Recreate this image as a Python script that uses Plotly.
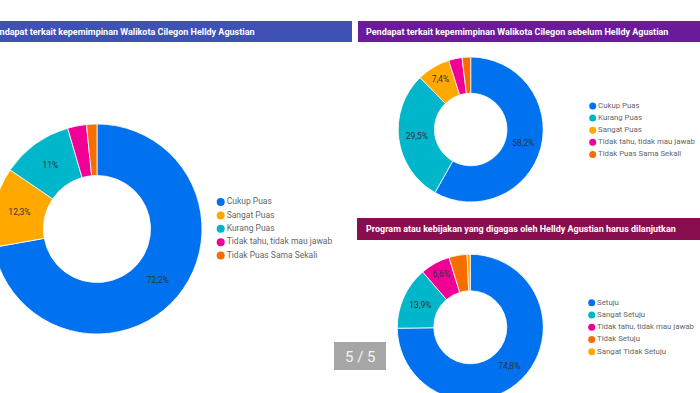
import plotly.graph_objects as go

# ---------------- data ----------------
pie1_labels = ["Cukup Puas", "Sangat Puas", "Kurang Puas",
               "Tidak tahu, tidak mau jawab", "Tidak Puas Sama Sekali"]
pie1_values = [72.2, 12.3, 11.0, 2.9, 1.6]

pie2_labels = ["Cukup Puas", "Kurang Puas", "Sangat Puas",
               "Tidak tahu, tidak mau jawab", "Tidak Puas Sama Sekali"]
pie2_values = [58.2, 29.5, 7.4, 3.0, 1.9]

pie3_labels = ["Setuju", "Sangat Setuju", "Tidak tahu, tidak mau jawab",
               "Tidak Setuju", "Sangat Tidak Setuju"]
pie3_values = [74.8, 13.9, 6.6, 4.0, 0.7]

titles = [
    "Pendapat terkait kepemimpinan Walikota Cilegon Helldy Agustian",
    "Pendapat terkait kepemimpinan Walikota Cilegon sebelum Helldy Agustian",
    "Program atau kebijakan yang digagas oleh Helldy Agustian harus dilanjutkan",
]
page_indicator = "5 / 5"

BLUE, TEAL, PINK, ORANGE, YELLOW = "#0072f0", "#00b6cb", "#f10096", "#f66d00", "#ffa800"
color_map = {
    "Cukup Puas": BLUE, "Sangat Puas": YELLOW, "Kurang Puas": TEAL,
    "Tidak tahu, tidak mau jawab": PINK, "Tidak Puas Sama Sekali": ORANGE,
    "Setuju": BLUE, "Sangat Setuju": TEAL, "Tidak Setuju": ORANGE,
    "Sangat Tidak Setuju": YELLOW,
}

# ---------------- geometry helpers (screenshot pixels -> paper) ----------------
W, H, OX = 708, 402, 8
FONT = "Roboto"


def px(x):
    return min(1.0, max(0.0, (x + OX) / W))


def py(y):
    return min(1.0, max(0.0, 1 - y / H))


def dom(cx, cy, r):
    return dict(x=[px(cx - r), px(cx + r)], y=[py(cy + r), py(cy - r)])


def fmt(v):
    if v < 5:
        return ""
    s = f"{v:.1f}".rstrip("0").rstrip(".")
    return s.replace(".", ",") + "%"


fig = go.Figure()

pies = [
    (pie1_labels, pie1_values, (97, 229, 105), 0.51),
    (pie2_labels, pie2_values, (470.7, 129.5, 72.5), 0.5),
    (pie3_labels, pie3_values, (470.3, 327.3, 73), 0.5),
]
for labels, values, (cx, cy, r), hole in pies:
    fig.add_trace(go.Pie(
        labels=labels, values=values, sort=False, direction="clockwise", rotation=0,
        hole=hole, domain=dom(cx, cy, r),
        marker=dict(colors=[color_map[l] for l in labels], line=dict(color="white", width=0.8)),
        text=[fmt(v) for v in values], texttemplate="%{text}", textposition="inside",
        insidetextorientation="horizontal",
        textfont=dict(family=FONT, size=8.5, color="#333333"),
        showlegend=False, hoverinfo="skip",
    ))

# ---------------- legends as category scatter ----------------
legends = [
    (pie1_labels, 220.7, 202.0, 13.4, 8, 8.5),
    (pie2_labels, 592.7, 106.0, 12.1, 7, 7.8),
    (pie3_labels, 591.7, 302.7, 12.25, 7, 7.8),
]
layout_axes = {}
for i, (labels, mx, y0, s, ms, fs) in enumerate(legends, start=1):
    xa = "x" if i == 1 else f"x{i}"
    ya = "y" if i == 1 else f"y{i}"
    fig.add_trace(go.Scatter(
        x=[0] * len(labels), y=labels, xaxis=xa, yaxis=ya,
        mode="markers+text", text=labels, textposition="middle right",
        textfont=dict(family=FONT, size=fs, color="#666666"),
        marker=dict(size=ms, color=[color_map[l] for l in labels], line=dict(width=0)),
        cliponaxis=False, showlegend=False, hoverinfo="skip",
    ))
    kx = "xaxis" if i == 1 else f"xaxis{i}"
    ky = "yaxis" if i == 1 else f"yaxis{i}"
    layout_axes[kx] = dict(domain=[px(mx - 10), px(mx + 10)], range=[-1, 1], visible=False,
                           fixedrange=True, anchor=ya)
    layout_axes[ky] = dict(domain=[py(y0 + 4.5 * s), py(y0 - 0.5 * s)], type="category",
                           categoryorder="array", categoryarray=labels,
                           range=[len(labels) - 0.5, -0.5], visible=False, fixedrange=True,
                           anchor=xa)

# ---------------- header bars, titles, page indicator ----------------
shapes = [
    dict(type="rect", xref="paper", yref="paper", x0=0, x1=px(352), y0=py(42), y1=py(21),
         fillcolor="#3f51b5", line=dict(width=0), layer="below"),
    dict(type="rect", xref="paper", yref="paper", x0=px(358), x1=1, y0=py(42), y1=py(21),
         fillcolor="#6a1b9a", line=dict(width=0), layer="below"),
    dict(type="rect", xref="paper", yref="paper", x0=px(357), x1=1, y0=py(240), y1=py(218),
         fillcolor="#880e4f", line=dict(width=0), layer="below"),
    dict(type="rect", xref="paper", yref="paper", x0=px(334), x1=px(386), y0=py(370), y1=py(342),
         fillcolor="rgba(150,150,150,0.85)", line=dict(width=0)),
]
tfont = dict(family=FONT, size=9, color="white", weight="bold")
annotations = [
    dict(text=titles[0], x=px(257), y=py(31.5), xref="paper", yref="paper",
         xanchor="right", yanchor="middle", showarrow=False, font=tfont),
    dict(text=titles[1], x=px(364), y=py(31.5), xref="paper", yref="paper",
         xanchor="left", yanchor="middle", showarrow=False, font=tfont),
    dict(text=titles[2], x=px(364), y=py(229), xref="paper", yref="paper",
         xanchor="left", yanchor="middle", showarrow=False, font=tfont),
    dict(text=page_indicator, x=px(360), y=py(356.5), xref="paper", yref="paper",
         xanchor="center", yanchor="middle", showarrow=False,
         font=dict(family=FONT, size=15, color="#f4f4f4")),
]

fig.update_layout(
    width=W, height=H, margin=dict(l=0, r=0, t=0, b=0),
    paper_bgcolor="white", plot_bgcolor="white",
    shapes=shapes, annotations=annotations,
    uniformtext=dict(minsize=8.5, mode="show"),
    font=dict(family=FONT),
    **layout_axes,
)

post = (
    "document.documentElement.style.overflow='hidden';"
    "document.body.style.margin='0';document.body.style.overflow='hidden';"
    "var d=document.getElementById('{plot_id}');"
    "d.style.position='absolute';d.style.left='-8px';d.style.top='0px';"
)
fig.write_html("out.html", config={"displayModeBar": False}, post_script=post)
